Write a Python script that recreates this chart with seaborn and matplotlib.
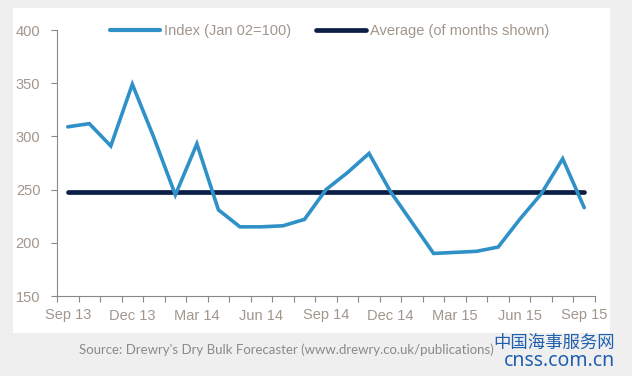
import matplotlib
matplotlib.use("Agg")
import matplotlib.pyplot as plt
from matplotlib.lines import Line2D
from matplotlib.patches import Rectangle
import seaborn as sns
import pandas as pd

# monthly index, Sep 13 .. Sep 15 (Jan 02 = 100)
months = ["Sep 13", "Oct 13", "Nov 13", "Dec 13", "Jan 14", "Feb 14", "Mar 14",
          "Apr 14", "May 14", "Jun 14", "Jul 14", "Aug 14", "Sep 14", "Oct 14",
          "Nov 14", "Dec 14", "Jan 15", "Feb 15", "Mar 15", "Apr 15", "May 15",
          "Jun 15", "Jul 15", "Aug 15", "Sep 15"]
index_values = [309, 312, 291, 349, 299, 245, 293, 231, 215, 215, 216, 222, 250,
                266, 284, 248, 219, 190, 191, 192, 196, 222, 246, 279, 233]
average_value = 248
tick_labels = ["Sep 13", "Dec 13", "Mar 14", "Jun 14", "Sep 14",
               "Dec 14", "Mar 15", "Jun 15", "Sep 15"]

df = pd.DataFrame({"pos": range(len(months)), "month": months, "index": index_values})
df["average"] = average_value

sns.set_style("white")
plt.rcParams["font.family"] = ["Liberation Sans", "DejaVu Sans"]

blue = "#2f91c8"
navy = "#0c1f47"
label_col = "#a0968c"

fig = plt.figure(figsize=(6.32, 3.76), dpi=100)
fig.patch.set_facecolor("#efefef")
# white chart panel
fig.patches.append(Rectangle((13 / 632, 1 - 333 / 376), (610 - 13) / 632, (333 - 8) / 376,
                             transform=fig.transFigure, facecolor="white",
                             edgecolor="none", zorder=-5))

ax = fig.add_axes([57 / 632, 1 - 296 / 376, (595 - 57) / 632, (296 - 30) / 376])
ax.set_facecolor("none")
ax.set_zorder(2)

sns.lineplot(data=df, x="pos", y="average", color=navy, lw=3.4,
             solid_capstyle="round", ax=ax)
sns.lineplot(data=df, x="pos", y="index", color=blue, lw=2.6,
             solid_joinstyle="miter", ax=ax)

ax.set_xlim(-0.5, len(months) - 0.5)
ax.set_ylim(150, 400)
ax.set_yticks([150, 200, 250, 300, 350, 400])
ax.set_xticks([months.index(m) for m in tick_labels])
ax.set_xticklabels(tick_labels)
ax.set_xticks([i - 0.5 for i in range(len(months) + 1)], minor=True)
ax.tick_params(axis="x", which="major", length=0, pad=9, labelsize=10.5, labelcolor=label_col)
ax.tick_params(axis="x", which="minor", length=4, width=0.8, color="#888888", direction="out")
ax.tick_params(axis="y", which="major", length=4, width=0.8, color="#888888", direction="out",
               pad=8, labelsize=10.5, labelcolor=label_col)
ax.xaxis.set_ticks_position("bottom")
ax.yaxis.set_ticks_position("left")
ax.set_xlabel("")
ax.set_ylabel("")
for side in ["top", "right"]:
    ax.spines[side].set_visible(False)
for side in ["left", "bottom"]:
    ax.spines[side].set_color("#888888")
    ax.spines[side].set_linewidth(0.8)

handles = [Line2D([], [], color=blue, lw=3.0, solid_capstyle="round"),
           Line2D([], [], color=navy, lw=3.4, solid_capstyle="round")]
leg = fig.legend(handles, ["Index (Jan 02=100)", "Average (of months shown)"],
                 loc="center", bbox_to_anchor=(330 / 632, 1 - 31 / 376), ncol=2,
                 frameon=False, fontsize=10.5, handlelength=3.4, handletextpad=0.3,
                 columnspacing=1.7, labelcolor=label_col)

fig.text(79 / 632, 1 - 350 / 376, "Source: Drewry's Dry Bulk Forecaster (www.drewry.co.uk/publications)",
         fontsize=9.5, color="#8a8a8a", family=["Lato", "DejaVu Sans"], va="center", ha="left")

fig.text(615 / 632, 1 - 343 / 376, "中国海事服务网", fontsize=12.5, color="#1f5fae",
         family=["Noto Sans CJK SC", "DejaVu Sans"], ha="right", va="center")
fig.text(615 / 632, 1 - 361 / 376, "cnss.com.cn", fontsize=14, color="#1f5fae",
         family=["Noto Sans", "DejaVu Sans"], fontweight="bold", ha="right", va="center")

fig.savefig("out.png", dpi=100, facecolor=fig.get_facecolor())
